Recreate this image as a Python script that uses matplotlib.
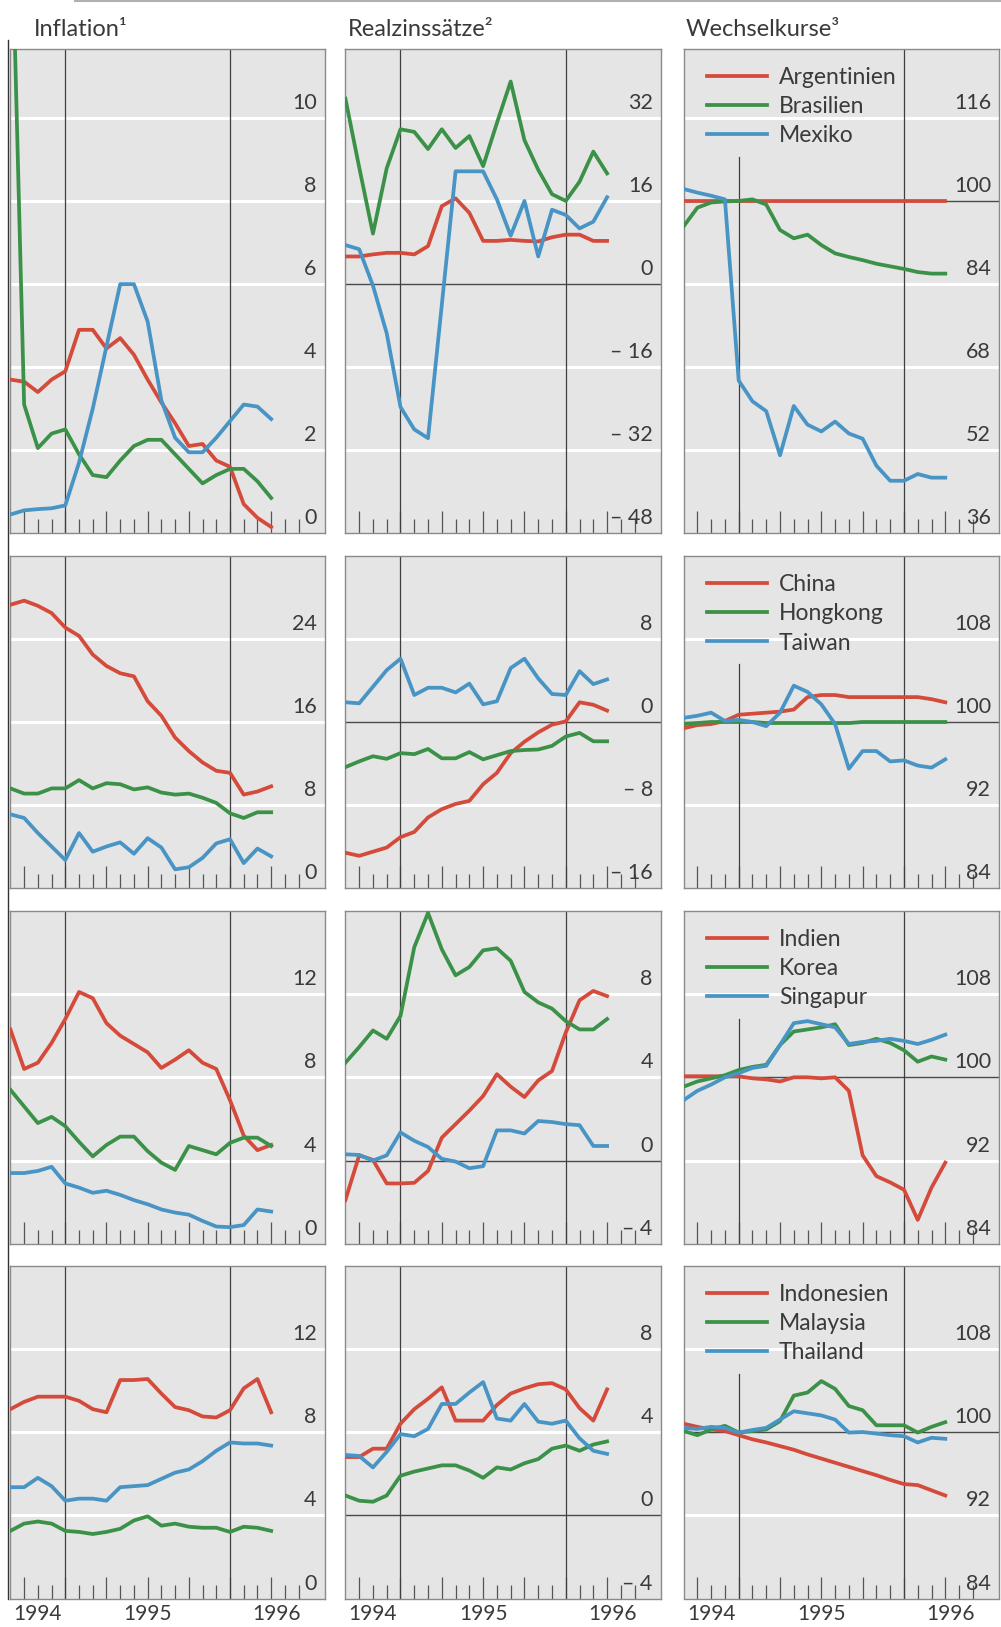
import matplotlib
matplotlib.use("Agg")
import matplotlib.pyplot as plt
import matplotlib.transforms as mtrans
from matplotlib.lines import Line2D

plt.rcParams['font.family'] = ['Lato', 'DejaVu Sans']

# monthly observations, index 0..19 (1994 Q4 ... 1996)
months = list(range(20))
year_pos = [2, 10, 19.4]
year_labels = ['1994', '1995', '1996']
titles = ['Inflation¹', 'Realzinssätze²', 'Wechselkurse³']

# row 1: Argentinien, Brasilien, Mexiko
arg_infl = [3.7, 3.65, 3.4, 3.7, 3.9, 4.9, 4.9, 4.45, 4.7, 4.3, 3.7, 3.15, 2.65, 2.1, 2.15, 1.75, 1.6, 0.7, 0.37, 0.15]
bra_infl = [16.0, 3.1, 2.05, 2.4, 2.5, 1.9, 1.4, 1.35, 1.75, 2.1, 2.25, 2.25, 1.9, 1.55, 1.2, 1.4, 1.55, 1.55, 1.25, 0.85]
mex_infl = [0.45, 0.55, 0.58, 0.6, 0.67, 1.7, 3.0, 4.5, 6.0, 6.0, 5.1, 3.2, 2.3, 1.95, 1.95, 2.3, 2.7, 3.1, 3.05, 2.75]
arg_real = [5.3, 5.3, 5.7, 6.0, 6.0, 5.7, 7.3, 15.0, 16.5, 13.7, 8.3, 8.3, 8.5, 8.3, 8.2, 9.0, 9.5, 9.5, 8.3, 8.3]
bra_real = [35.7, 22.5, 9.7, 22.3, 29.8, 29.3, 26.0, 29.8, 26.2, 28.5, 22.7, 31.0, 39.0, 27.7, 22.0, 17.3, 16.0, 19.7, 25.5, 21.3]
mex_real = [7.5, 6.7, -0.3, -9.5, -23.7, -28.0, -29.7, -4.0, 21.7, 21.7, 21.7, 16.3, 9.3, 16.0, 5.3, 14.3, 13.3, 10.7, 12.0, 16.7]
arg_fx = [100, 100, 100, 100, 100, 100, 100, 100, 100, 100, 100, 100, 100, 100, 100, 100, 100, 100, 100, 100]
bra_fx = [95.1, 98.7, 99.7, 99.9, 100.0, 100.3, 99.3, 94.4, 92.8, 93.5, 91.5, 89.9, 89.2, 88.6, 87.9, 87.4, 86.9, 86.3, 86.0, 86.0]
mex_fx = [102.3, 101.6, 101.0, 100.3, 65.4, 61.4, 59.5, 51.0, 60.5, 56.9, 55.6, 57.5, 55.2, 54.2, 49.0, 46.1, 46.1, 47.4, 46.7, 46.7]

# row 2: China, Hongkong, Taiwan
chn_infl = [27.3, 27.7, 27.2, 26.5, 25.1, 24.3, 22.5, 21.4, 20.7, 20.4, 18.0, 16.6, 14.5, 13.2, 12.1, 11.3, 11.1, 9.0, 9.3, 9.8]
hkg_infl = [9.6, 9.1, 9.1, 9.6, 9.6, 10.4, 9.6, 10.1, 10.0, 9.5, 9.7, 9.2, 9.0, 9.1, 8.7, 8.2, 7.2, 6.75, 7.3, 7.3]
twn_infl = [7.1, 6.75, 5.3, 4.0, 2.7, 5.3, 3.5, 4.0, 4.4, 3.3, 4.8, 3.9, 1.8, 2.0, 2.9, 4.3, 4.7, 2.4, 3.8, 3.05]
chn_real = [-12.6, -12.9, -12.5, -12.1, -11.1, -10.6, -9.2, -8.4, -7.9, -7.6, -6.0, -4.9, -3.0, -1.9, -1.0, -0.26, 0.06, 1.9, 1.66, 1.1]
hkg_real = [-4.35, -3.8, -3.3, -3.55, -3.0, -3.1, -2.6, -3.5, -3.5, -2.9, -3.6, -3.2, -2.8, -2.7, -2.65, -2.3, -1.4, -1.05, -1.86, -1.86]
twn_real = [1.9, 1.8, 3.4, 5.0, 6.1, 2.6, 3.3, 3.3, 2.85, 3.7, 1.7, 2.0, 5.2, 6.1, 4.2, 2.7, 2.6, 4.9, 3.65, 4.1]
chn_fx = [99.4, 99.7, 99.8, 100.1, 100.7, 100.8, 100.9, 101.0, 101.2, 102.4, 102.6, 102.6, 102.4, 102.4, 102.4, 102.4, 102.4, 102.4, 102.2, 101.9]
hkg_fx = [99.8, 99.9, 100.0, 100.0, 100.0, 100.0, 99.9, 99.9, 99.9, 99.9, 99.9, 99.9, 99.9, 100.0, 100.0, 100.0, 100.0, 100.0, 100.0, 100.0]
twn_fx = [100.4, 100.6, 100.9, 100.1, 100.2, 100.0, 99.6, 100.9, 103.5, 102.9, 101.7, 99.8, 95.5, 97.2, 97.2, 96.2, 96.3, 95.8, 95.6, 96.4]

# row 3: Indien, Korea, Singapur
ind_infl = [10.3, 8.4, 8.7, 9.65, 10.8, 12.1, 11.8, 10.6, 10.0, 9.6, 9.2, 8.45, 8.85, 9.3, 8.7, 8.4, 6.9, 5.2, 4.5, 4.75]
kor_infl = [7.4, 6.6, 5.8, 6.1, 5.65, 4.9, 4.2, 4.75, 5.15, 5.15, 4.45, 3.9, 3.55, 4.7, 4.5, 4.3, 4.85, 5.1, 5.1, 4.7]
sgp_infl = [3.4, 3.4, 3.5, 3.7, 2.9, 2.7, 2.45, 2.55, 2.35, 2.1, 1.9, 1.65, 1.5, 1.4, 1.1, 0.83, 0.8, 0.9, 1.65, 1.55]
ind_real = [-1.9, 0.25, 0.03, -1.1, -1.1, -1.07, -0.5, 1.1, 1.75, 2.4, 3.1, 4.15, 3.55, 3.05, 3.85, 4.3, 6.15, 7.7, 8.15, 7.9]
kor_real = [4.7, 5.45, 6.25, 5.85, 6.95, 10.25, 11.9, 10.15, 8.9, 9.3, 10.1, 10.2, 9.6, 8.1, 7.6, 7.3, 6.7, 6.3, 6.3, 6.8]
sgp_real = [0.3, 0.27, 0.0, 0.25, 1.35, 0.95, 0.65, 0.08, -0.05, -0.37, -0.27, 1.45, 1.45, 1.3, 1.9, 1.85, 1.75, 1.7, 0.7, 0.7]
ind_fx = [100.1, 100.1, 100.1, 100.1, 100.1, 99.9, 99.8, 99.6, 100.0, 100.0, 99.9, 100.0, 98.7, 92.5, 90.5, 89.9, 89.2, 86.3, 89.4, 91.8]
kor_fx = [99.1, 99.6, 99.9, 100.2, 100.7, 101.0, 101.2, 103.1, 104.4, 104.6, 104.8, 105.1, 103.1, 103.3, 103.7, 103.3, 102.6, 101.5, 102.0, 101.7]
sgp_fx = [97.8, 98.7, 99.3, 100.0, 100.4, 100.9, 101.1, 103.1, 105.2, 105.4, 105.1, 104.8, 103.2, 103.4, 103.5, 103.7, 103.5, 103.2, 103.6, 104.1]

# row 4: Indonesien, Malaysia, Thailand
idn_infl = [9.1, 9.45, 9.7, 9.7, 9.7, 9.5, 9.1, 8.95, 10.5, 10.5, 10.55, 9.85, 9.2, 9.05, 8.75, 8.7, 9.05, 10.1, 10.55, 8.95]
mys_infl = [3.25, 3.6, 3.7, 3.6, 3.25, 3.2, 3.1, 3.2, 3.35, 3.75, 3.95, 3.5, 3.6, 3.45, 3.4, 3.4, 3.2, 3.45, 3.4, 3.25]
tha_infl = [5.35, 5.35, 5.8, 5.4, 4.7, 4.8, 4.8, 4.7, 5.35, 5.4, 5.45, 5.75, 6.05, 6.2, 6.6, 7.1, 7.5, 7.45, 7.45, 7.35]
idn_real = [2.8, 2.8, 3.2, 3.2, 4.4, 5.1, 5.6, 6.15, 4.55, 4.55, 4.55, 5.3, 5.85, 6.1, 6.3, 6.35, 6.05, 5.15, 4.55, 6.05]
mys_real = [0.95, 0.7, 0.65, 0.95, 1.9, 2.1, 2.25, 2.4, 2.4, 2.15, 1.8, 2.3, 2.2, 2.5, 2.7, 3.2, 3.35, 3.1, 3.4, 3.55]
tha_real = [2.9, 2.85, 2.3, 3.05, 3.9, 3.8, 4.15, 5.35, 5.35, 5.9, 6.4, 4.65, 4.55, 5.35, 4.5, 4.4, 4.55, 3.7, 3.1, 2.95]
idn_fx = [100.8, 100.5, 100.25, 100.1, 99.7, 99.3, 99.0, 98.65, 98.3, 97.85, 97.45, 97.05, 96.65, 96.25, 95.85, 95.4, 95.0, 94.9, 94.4, 93.9]
mys_fx = [100.1, 99.7, 100.25, 100.6, 99.95, 100.1, 100.25, 101.05, 103.5, 103.8, 104.9, 104.15, 102.5, 102.1, 100.65, 100.65, 100.65, 99.95, 100.5, 100.95]
tha_fx = [100.4, 100.3, 100.5, 100.4, 99.95, 100.2, 100.4, 101.2, 102.0, 101.8, 101.6, 101.2, 99.95, 100.0, 99.85, 99.7, 99.6, 99.0, 99.45, 99.35]

countries = [['Argentinien', 'Brasilien', 'Mexiko'],
             ['China', 'Hongkong', 'Taiwan'],
             ['Indien', 'Korea', 'Singapur'],
             ['Indonesien', 'Malaysia', 'Thailand']]

RED = '#d44a3b'
GREEN = '#3b9147'
BLUE = '#4894c4'
INK = '#3a3a3a'
PANEL = '#e5e5e5'
VLINE = '#3f3f3f'

W, H = 1001, 1627
col_px = [(10.4, 324.7), (345.4, 660.8), (683.6, 999.0)]
row_px = [(48.8, 533.2), (556.0, 888.0), (910.8, 1243.8), (1265.6, 1598.5)]


def fmt(v):
    return '– %d' % abs(v) if v < 0 else '%d' % v


def panel(fig, r, c, data, ylim, yticks, ref=None):
    x0, x1 = col_px[c]
    y0, y1 = row_px[r]
    w, h = x1 - x0, y1 - y0
    ax = fig.add_axes([x0 / W, 1 - y1 / H, w / W, h / H])
    ax.set_facecolor(PANEL)
    ax.set_xlim(0, 22.9)
    ax.set_ylim(*ylim)
    for s in ax.spines.values():
        s.set_color('#8a8a8a')
        s.set_linewidth(1)

    # white grid, dark reference line
    for v in yticks[1:]:
        if v != ref:
            ax.axhline(v, color='white', lw=2.2, zorder=1)
    if ref is not None:
        ax.axhline(ref, color='#4a4a4a', lw=1.0, zorder=2)

    # year boundaries; in the exchange rate column the first one stops below the legend
    top = 1 - 108 / h if c == 2 else 1
    ax.axvline(4, ymax=top, color=VLINE, lw=0.9, zorder=2)
    ax.axvline(16, color=VLINE, lw=0.9, zorder=2)

    for vals, col, name in zip(data, [RED, GREEN, BLUE], countries[r]):
        ax.plot(months, vals, color=col, lw=2.7, zorder=3, label=name)

    # month ticks inside the bottom edge, quarters longer
    ax.set_xticks([1, 4, 7, 10, 13, 16, 19])
    ax.set_xticks([2, 3, 5, 6, 8, 9, 11, 12, 14, 15, 17, 18, 20, 21], minor=True)
    ax.tick_params(which='major', direction='in', length=16, width=0.9, color='#555555')
    ax.tick_params(which='minor', direction='in', length=10, width=0.9, color='#555555')
    ax.tick_params(which='both', top=False, left=False, right=False,
                   labelbottom=False, labelleft=False)
    ax.set_yticks([])

    # value labels sit just above their grid line at the right
    tr = mtrans.blended_transform_factory(ax.transAxes, ax.transData)
    tr = mtrans.offset_copy(tr, fig=fig, x=-8, y=9, units='dots')
    for v in yticks:
        ax.text(1, v, fmt(v), transform=tr, ha='right', va='baseline',
                fontsize=15.5, color=INK, zorder=4)

    if c == 2:
        ax.legend(loc='upper left', bbox_to_anchor=(23 / w, 1 - 18 / h),
                  frameon=False, fontsize=16.5, handlelength=2.65,
                  handletextpad=0.5, labelspacing=0.36, borderaxespad=0,
                  borderpad=0, labelcolor=INK)

    if r == 3:
        tb = mtrans.blended_transform_factory(ax.transData, ax.transAxes)
        tb = mtrans.offset_copy(tb, fig=fig, x=0, y=-6, units='dots')
        for xp, lab in zip(year_pos, year_labels):
            ax.text(xp, 0, lab, transform=tb, ha='center', va='top',
                    fontsize=15, color=INK)
    return ax


fig = plt.figure(figsize=(W / 100, H / 100), dpi=100)

panel(fig, 0, 0, [arg_infl, bra_infl, mex_infl], (0, 11.67), [0, 2, 4, 6, 8, 10])
panel(fig, 0, 1, [arg_real, bra_real, mex_real], (-48, 45.3), [-48, -32, -16, 0, 16, 32], ref=0)
panel(fig, 0, 2, [arg_fx, bra_fx, mex_fx], (36, 129.3), [36, 52, 68, 84, 100, 116], ref=100)

panel(fig, 1, 0, [chn_infl, hkg_infl, twn_infl], (0, 32), [0, 8, 16, 24])
panel(fig, 1, 1, [chn_real, hkg_real, twn_real], (-16, 16), [-16, -8, 0, 8], ref=0)
panel(fig, 1, 2, [chn_fx, hkg_fx, twn_fx], (84, 116), [84, 92, 100, 108], ref=100)

panel(fig, 2, 0, [ind_infl, kor_infl, sgp_infl], (0, 16), [0, 4, 8, 12])
panel(fig, 2, 1, [ind_real, kor_real, sgp_real], (-4, 12), [-4, 0, 4, 8], ref=0)
panel(fig, 2, 2, [ind_fx, kor_fx, sgp_fx], (84, 116), [84, 92, 100, 108], ref=100)

panel(fig, 3, 0, [idn_infl, mys_infl, tha_infl], (0, 16), [0, 4, 8, 12])
panel(fig, 3, 1, [idn_real, mys_real, tha_real], (-4, 12), [-4, 0, 4, 8], ref=0)
panel(fig, 3, 2, [idn_fx, mys_fx, tha_fx], (84, 116), [84, 92, 100, 108], ref=100)

for xp, t in zip([34, 347.5, 686], titles):
    fig.text(xp / W, 1 - 29 / H, t, ha='left', va='center', fontsize=17, color=INK)

# page frame: dark rule at the left, faint rule at the top
fig.add_artist(Line2D([8 / W, 8 / W], [1 - 40 / H, 1 - 1598.5 / H], color='#333333', lw=1))
fig.add_artist(Line2D([75 / W, 1], [1 - 1 / H, 1 - 1 / H], color='#b0b0b0', lw=1.5))

fig.savefig('out.png', dpi=100, facecolor='white')
